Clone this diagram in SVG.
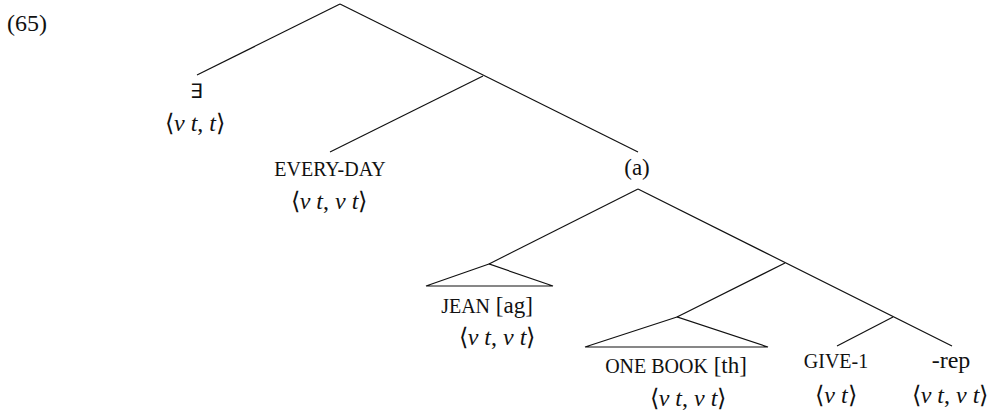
<svg xmlns="http://www.w3.org/2000/svg" width="998" height="412" viewBox="0 0 998 412">
<defs>
<style>
.e{stroke:#111;stroke-width:1.2;fill:none}
</style>
</defs>
<rect width="998" height="412" fill="#fff"/>
<text x="7" y="31" font-family="'Liberation Serif', serif" font-size="24" fill="#111">(65)</text>
<g id="edges">
<line class="e" x1="340" y1="4" x2="197" y2="75"/>
<line class="e" x1="340" y1="4" x2="638" y2="152"/>
<line class="e" x1="483" y1="76" x2="330" y2="152"/>
<line class="e" x1="638" y1="189" x2="489" y2="264"/>
<line class="e" x1="638" y1="189" x2="952" y2="346"/>
<line class="e" x1="785" y1="263" x2="677" y2="317"/>
<line class="e" x1="893" y1="317" x2="837" y2="346"/>
</g>
<g id="n-exists">
<text x="196" y="98" text-anchor="middle" font-family="'Liberation Serif', serif" font-size="20" fill="#111">∃</text>
<text x="195" y="131" text-anchor="middle" font-family="'Liberation Serif', serif" font-size="24" fill="#111">⟨<tspan font-style="italic">v t</tspan>, <tspan font-style="italic">t</tspan>⟩</text>
</g>
<g id="n-everyday">
<text x="330" y="176" text-anchor="middle" font-family="'Liberation Serif', serif" font-size="20" fill="#111">EVERY-DAY</text>
<text x="329" y="209" text-anchor="middle" font-family="'Liberation Serif', serif" font-size="24" fill="#111">⟨<tspan font-style="italic">v t</tspan>, <tspan font-style="italic">v t</tspan>⟩</text>
</g>
<g id="n-a">
<text x="637" y="175" text-anchor="middle" font-family="'Liberation Serif', serif" font-size="23" fill="#111">(a)</text>
</g>
<g id="n-jean">
<polygon class="e" points="489,264 426,286 553,286"/>
<text x="487" y="313" text-anchor="middle" font-family="'Liberation Serif', serif" font-size="23" fill="#111"><tspan font-size="20">JEAN</tspan> [ag]</text>
<text x="497" y="345" text-anchor="middle" font-family="'Liberation Serif', serif" font-size="24" fill="#111">⟨<tspan font-style="italic">v t</tspan>, <tspan font-style="italic">v t</tspan>⟩</text>
</g>
<g id="n-onebook">
<polygon class="e" points="677,317 585,347 768,347"/>
<text x="676" y="373" text-anchor="middle" font-family="'Liberation Serif', serif" font-size="23" fill="#111"><tspan font-size="20">ONE BOOK</tspan> [th]</text>
<text x="688" y="406" text-anchor="middle" font-family="'Liberation Serif', serif" font-size="24" fill="#111">⟨<tspan font-style="italic">v t</tspan>, <tspan font-style="italic">v t</tspan>⟩</text>
</g>
<g id="n-give">
<text x="836" y="368" text-anchor="middle" font-family="'Liberation Serif', serif" font-size="20" fill="#111">GIVE-1</text>
<text x="836" y="403" text-anchor="middle" font-family="'Liberation Serif', serif" font-size="24" fill="#111">⟨<tspan font-style="italic">v t</tspan>⟩</text>
</g>
<g id="n-rep">
<text x="951" y="368" text-anchor="middle" font-family="'Liberation Serif', serif" font-size="24" fill="#111">-rep</text>
<text x="950" y="403" text-anchor="middle" font-family="'Liberation Serif', serif" font-size="24" fill="#111">⟨<tspan font-style="italic">v t</tspan>, <tspan font-style="italic">v t</tspan>⟩</text>
</g>
</svg>
